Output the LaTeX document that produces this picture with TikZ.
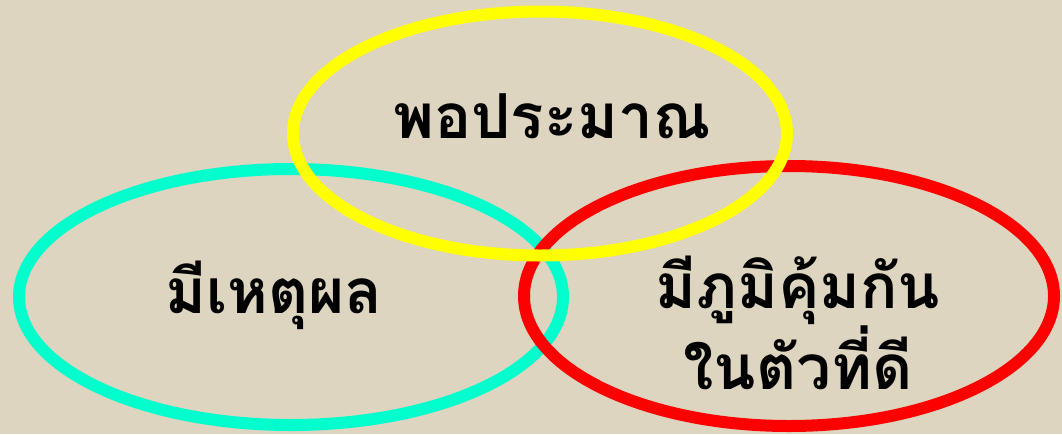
\documentclass[tikz,border=0pt]{standalone}
\usepackage{fontspec}
\newfontfamily\thaifont[Script=Thai]{Loma}
\definecolor{bgc}{HTML}{DDD5C0}
\definecolor{cyanring}{HTML}{00FFCC}
\definecolor{yellowring}{HTML}{FFFF00}
\definecolor{redring}{HTML}{FF0000}
\begin{document}
\begin{tikzpicture}[x=1pt,y=-1pt,
  ring/.style={line width=12pt},
  lbl/.style={font=\thaifont\bfseries\fontsize{62}{76}\selectfont, text=black, align=center, inner sep=0pt}]
\fill[bgc] (0,0) rectangle (1062,434);
\useasboundingbox (0,0) rectangle (1062,434);
\draw[ring, cyanring] (291,297) ellipse [x radius=272, y radius=128];
\draw[ring, redring] (789,296) ellipse [x radius=265, y radius=130];
\draw[ring, yellowring] (540,133.5) ellipse [x radius=247, y radius=122];
\node[lbl] (top) at (552,116) {พอประมาณ};
\node[lbl] (left) at (274,295) {มีเหตุผล};
\node[lbl] (right) at (798,323) {มีภูมิคุ้มกัน\\ในตัวที่ดี};
\end{tikzpicture}
\end{document}
